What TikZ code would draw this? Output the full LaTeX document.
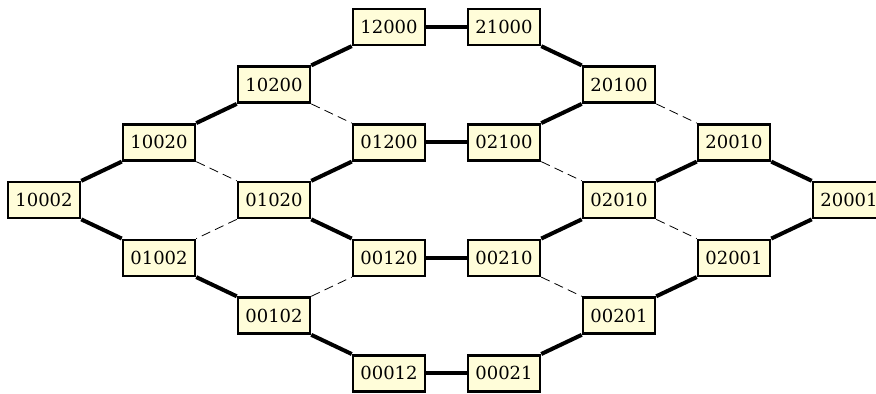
\documentclass[tikz,border=0pt]{standalone}
\usepackage{fontspec}
\setmainfont{DejaVu Serif}
\begin{document}
\begin{tikzpicture}[x=86.25pt, y=43.3pt,
  box/.style={draw, line width=1.9pt, fill=yellow!15, minimum width=54pt, minimum height=27pt, inner sep=0pt, font=\fontsize{13.5}{16}\selectfont},
  strong/.style={line width=3pt},
  weak/.style={line width=0.6pt, dash pattern=on 7pt off 4pt}]
\useasboundingbox (-0.3826,-3.345) rectangle (7.2348,3.466);
%\draw[help lines] (0,-3) grid (7,3);
\node[box] (n10002) at (0,0) {10002};
\node[box] (n10020) at (1,1) {10020};
\node[box] (n01002) at (1,-1) {01002};
\node[box] (n10200) at (2,2) {10200};
\node[box] (n01020) at (2,0) {01020};
\node[box] (n00102) at (2,-2) {00102};
\node[box] (n12000) at (3,3) {12000};
\node[box] (n01200) at (3,1) {01200};
\node[box] (n00120) at (3,-1) {00120};
\node[box] (n00012) at (3,-3) {00012};
\node[box] (n21000) at (4,3) {21000};
\node[box] (n02100) at (4,1) {02100};
\node[box] (n00210) at (4,-1) {00210};
\node[box] (n00021) at (4,-3) {00021};
\node[box] (n20100) at (5,2) {20100};
\node[box] (n02010) at (5,0) {02010};
\node[box] (n00201) at (5,-2) {00201};
\node[box] (n20010) at (6,1) {20010};
\node[box] (n02001) at (6,-1) {02001};
\node[box] (n20001) at (7,0) {20001};
% outer ring
\draw[strong] (n10002.north east) -- (n10020.south west);
\draw[strong] (n10020.north east) -- (n10200.south west);
\draw[strong] (n10200.north east) -- (n12000.south west);
\draw[strong] (n12000) -- (n21000);
\draw[strong] (n21000.south east) -- (n20100.north west);
\draw[strong] (n20100.south west) -- (n02100.north east);
\draw[strong] (n01200) -- (n02100);
\draw[strong] (n01200.south west) -- (n01020.north east);
\draw[strong] (n01020.south east) -- (n00120.north west);
\draw[strong] (n00120) -- (n00210);
\draw[strong] (n00210.north east) -- (n02010.south west);
\draw[strong] (n02010.north east) -- (n20010.south west);
\draw[strong] (n20010.south east) -- (n20001.north west);
\draw[strong] (n20001.south west) -- (n02001.north east);
\draw[strong] (n02001.south west) -- (n00201.north east);
\draw[strong] (n00201.south west) -- (n00021.north east);
\draw[strong] (n00012) -- (n00021);
\draw[strong] (n00102.south east) -- (n00012.north west);
\draw[strong] (n01002.south east) -- (n00102.north west);
\draw[strong] (n10002.south east) -- (n01002.north west);
% dashed links
\draw[weak] (n10200.south east) -- (n01200.north west);
\draw[weak] (n10020.south east) -- (n01020.north west);
\draw[weak] (n01020.south west) -- (n01002.north east);
\draw[weak] (n00102.north east) -- (n00120.south west);
\draw[weak] (n02100.south east) -- (n02010.north west);
\draw[weak] (n00210.south east) -- (n00201.north west);
\draw[weak] (n20100.south east) -- (n20010.north west);
\draw[weak] (n02010.south east) -- (n02001.north west);
\end{tikzpicture}
\end{document}
